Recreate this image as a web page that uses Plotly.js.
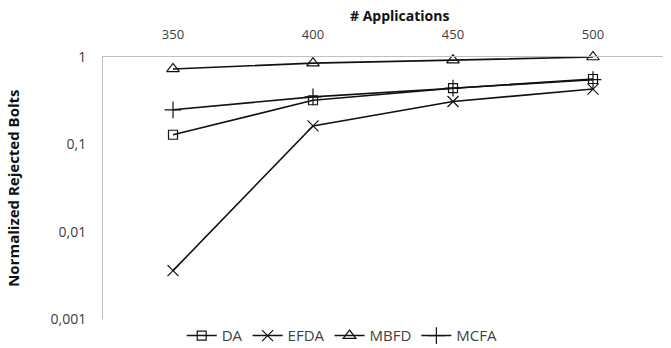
<!DOCTYPE html>
<html>
<head>
<meta charset="utf-8">
<script src="https://cdn.plot.ly/plotly-3.0.1.min.js"></script>
<style>
  html, body { margin: 0; padding: 0; background: #fff; }
  #chart { width: 671px; height: 348px; }
</style>
</head>
<body>
<div id="chart"></div>
<script>
// Number of applications (category axis, shown on top)
const applications = ['350', '400', '450', '500'];

// Normalized rejected bolts per scheduler
const daValues   = [0.129, 0.32, 0.44, 0.56];
const efdaValues = [0.0036, 0.163, 0.31, 0.43];
const mbfdValues = [0.73, 0.85, 0.92, 1.0];
const mcfaValues = [0.249, 0.35, 0.44, 0.55];

// Log-axis ticks with comma decimal separator
const yTickVals = [0.001, 0.01, 0.1, 1];
const yTickText = ['0,001', '0,01', '0,1', '1'];

const font = 'Open Sans, sans-serif';

function series(name, y, symbol, size) {
  return {
    type: 'scatter',
    mode: 'lines+markers',
    name: name,
    x: applications,
    y: y,
    cliponaxis: false,
    line: { color: '#111', width: 1.6 },
    marker: { symbol: symbol, size: size, color: '#111', line: { color: '#111', width: 1.2 } }
  };
}

const data = [
  series('DA', daValues, 'square-open', 9),
  series('EFDA', efdaValues, 'x-thin-open', 11),
  series('MBFD', mbfdValues, 'triangle-up-open', 11),
  series('MCFA', mcfaValues, 'cross-thin-open', 12)
];

const layout = {
  width: 671,
  height: 348,
  margin: { l: 103, r: 8, t: 57, b: 26 },
  paper_bgcolor: '#fff',
  plot_bgcolor: '#fff',
  font: { family: font, size: 13, color: '#404040' },
  showlegend: true,
  legend: {
    orientation: 'h',
    xref: 'container', yref: 'container',
    x: 0.51, xanchor: 'center',
    y: 0.035, yanchor: 'middle',
    font: { family: font, size: 15, color: '#404040' },
    itemwidth: 30,
    tracegroupgap: 0
  },
  annotations: [{
    text: '<b># Applications</b>',
    xref: 'paper', yref: 'paper',
    x: 0.53, y: 1.16,
    xanchor: 'center', yanchor: 'middle',
    showarrow: false,
    font: { family: font, size: 14, color: '#111' }
  }],
  xaxis: {
    type: 'category',
    side: 'top',
    range: [-0.5, 3.5],
    showgrid: false,
    zeroline: false,
    showline: true,
    linecolor: '#bfbfbf',
    linewidth: 1,
    ticks: '',
    ticklabelstandoff: 12,
    tickfont: { family: font, size: 13, color: '#404040' },
    automargin: false
  },
  yaxis: {
    type: 'log',
    range: [-3, 0],
    tickvals: yTickVals,
    ticktext: yTickText,
    showgrid: false,
    zeroline: false,
    showline: true,
    linecolor: '#bfbfbf',
    linewidth: 1,
    ticks: '',
    ticklabelstandoff: 13,
    tickfont: { family: font, size: 14, color: '#404040' },
    title: { text: '<b>Normalized Rejected Bolts</b>', font: { family: font, size: 15, color: '#111' }, standoff: 27 },
    automargin: false
  }
};

Plotly.newPlot('chart', data, layout, { displayModeBar: false, staticPlot: true });
</script>
</body>
</html>
